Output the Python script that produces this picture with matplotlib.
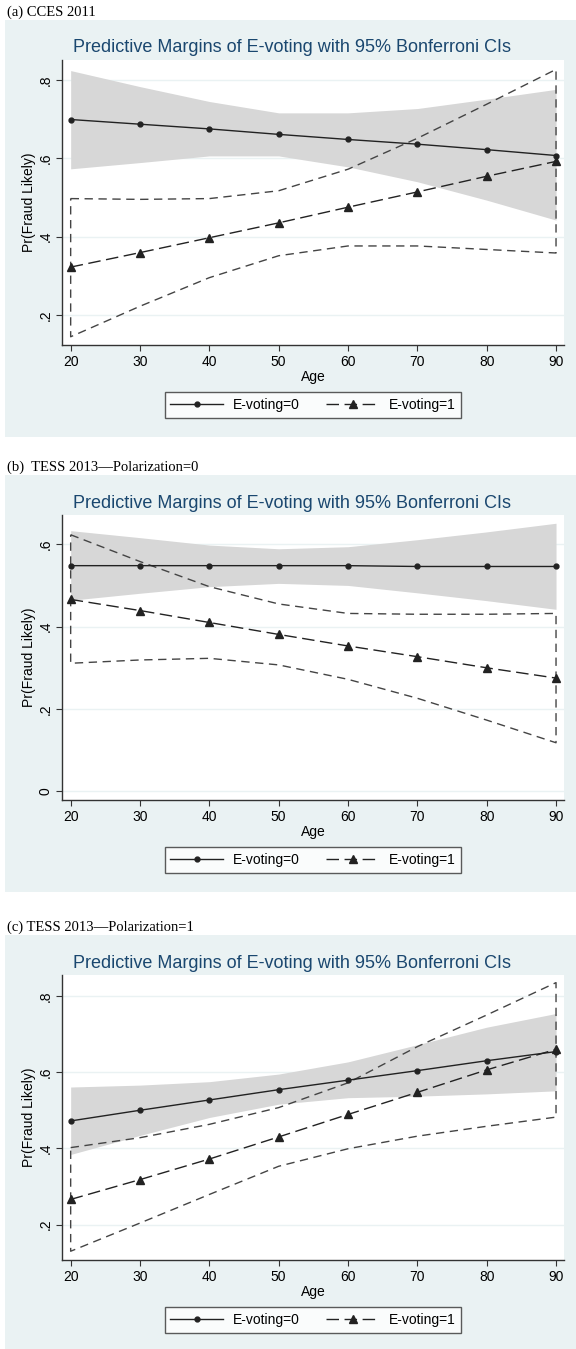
import matplotlib
matplotlib.use("Agg")
import matplotlib.pyplot as plt
from matplotlib.patches import Rectangle
from matplotlib.lines import Line2D

# ---- data ----
ages = [20, 30, 40, 50, 60, 70, 80, 90]

# (a) CCES 2011
a_ev0 = [0.699, 0.687, 0.675, 0.661, 0.648, 0.636, 0.622, 0.607]
a_ev0_hi = [0.824, 0.783, 0.745, 0.716, 0.716, 0.727, 0.751, 0.776]
a_ev0_lo = [0.573, 0.589, 0.606, 0.606, 0.578, 0.540, 0.493, 0.442]
a_ev1 = [0.322, 0.359, 0.397, 0.435, 0.475, 0.514, 0.554, 0.592]
a_ev1_hi = [0.497, 0.495, 0.497, 0.517, 0.572, 0.651, 0.738, 0.827]
a_ev1_lo = [0.144, 0.222, 0.295, 0.351, 0.376, 0.376, 0.367, 0.358]

# (b) TESS 2013, Polarization=0
b_ev0 = [0.548, 0.548, 0.548, 0.548, 0.548, 0.546, 0.546, 0.546]
b_ev0_hi = [0.633, 0.616, 0.598, 0.589, 0.594, 0.611, 0.630, 0.651]
b_ev0_lo = [0.464, 0.481, 0.497, 0.505, 0.500, 0.482, 0.463, 0.442]
b_ev1 = [0.466, 0.439, 0.410, 0.381, 0.353, 0.327, 0.300, 0.275]
b_ev1_hi = [0.623, 0.558, 0.497, 0.455, 0.432, 0.430, 0.430, 0.432]
b_ev1_lo = [0.311, 0.319, 0.323, 0.307, 0.272, 0.226, 0.173, 0.118]

# (c) TESS 2013, Polarization=1
c_ev0 = [0.472, 0.500, 0.527, 0.554, 0.579, 0.604, 0.630, 0.654]
c_ev0_hi = [0.561, 0.566, 0.575, 0.595, 0.627, 0.672, 0.718, 0.754]
c_ev0_lo = [0.384, 0.434, 0.481, 0.516, 0.533, 0.537, 0.543, 0.551]
c_ev1 = [0.266, 0.318, 0.372, 0.430, 0.489, 0.547, 0.606, 0.660]
c_ev1_hi = [0.402, 0.428, 0.463, 0.507, 0.572, 0.667, 0.750, 0.835]
c_ev1_lo = [0.130, 0.204, 0.279, 0.353, 0.399, 0.432, 0.458, 0.482]

panel_labels = ["(a) CCES 2011", "(b)  TESS 2013\u2014Polarization=0",
                "(c) TESS 2013\u2014Polarization=1"]
title = "Predictive Margins of E-voting with 95% Bonferroni CIs"
yticks_ac = [0.2, 0.4, 0.6, 0.8]
yticklabels_ac = [".2", ".4", ".6", ".8"]
yticks_b = [0, 0.2, 0.4, 0.6]
yticklabels_b = ["0", ".2", ".4", ".6"]

W, H = 576, 1349
BG = "#eaf2f3"
NAVY = "#1a476f"
SANS = ["Liberation Sans", "DejaVu Sans"]
SERIF = ["Liberation Serif", "DejaVu Serif"]

fig = plt.figure(figsize=(W / 100, H / 100), dpi=100)
fig.patch.set_facecolor("white")


def frect(x0, y0, x1, y1):
    # pixel box (top-left origin) -> figure fraction rect
    return [x0 / W, 1 - y1 / H, (x1 - x0) / W, (y1 - y0) / H]


def draw_panel(top, label, ev0, ev0_lo, ev0_hi, ev1, ev1_lo, ev1_hi,
               ylim, yticks, yticklabels):
    # gray stata background
    bx = frect(5, top + 8, 576, top + 425)
    fig.patches.append(Rectangle((bx[0], bx[1]), bx[2], bx[3], transform=fig.transFigure,
                                 facecolor=BG, edgecolor="none", zorder=-10))
    fig.text(7 / W, 1 - top / H, label, family=SERIF, fontsize=10.5,
             ha="left", va="center")
    fig.text(292 / W, 1 - (top + 36) / H, title, family=SANS, fontsize=13,
             color=NAVY, ha="center", va="center")

    ax = fig.add_axes(frect(62, top + 48, 564, top + 333))
    ax.set_facecolor("white")
    ax.fill_between(ages, ev0_lo, ev0_hi, color="#d7d7d7", linewidth=0, zorder=1)
    # dashed CI outline for E-voting=1 (closed at both ends)
    ax.plot(ages + ages[::-1] + [ages[0]], ev1_hi + ev1_lo[::-1] + [ev1_hi[0]],
            color="#444444", linestyle=(0, (6, 4)), linewidth=1.0, zorder=2)
    ax.plot(ages, ev0, color="#222222", linewidth=1.0, marker="o", markersize=3.5,
            zorder=3)
    ax.plot(ages, ev1, color="#222222", linewidth=1.0, linestyle=(0, (9, 4)),
            marker="^", markersize=6, zorder=3)

    ax.set_xlim(18.75, 91.15)
    ax.set_ylim(*ylim)
    ax.set_xticks(ages)
    ax.set_yticks(yticks)
    ax.set_yticklabels(yticklabels, rotation=90, va="center")
    for y in yticks:
        ax.axhline(y, color=BG, linewidth=1.0, zorder=0.5)
    for s in ["top", "right"]:
        ax.spines[s].set_visible(False)
    for s in ["left", "bottom"]:
        ax.spines[s].set_color("#333333")
        ax.spines[s].set_linewidth(1.0)
    ax.tick_params(direction="out", length=4, width=0.8, color="#333333",
                   labelsize=10, pad=3)
    for t in ax.get_xticklabels() + ax.get_yticklabels():
        t.set_family(SANS)
    ax.set_xlabel("Age", family=SANS, fontsize=10, labelpad=1)
    ax.set_ylabel("Pr(Fraud Likely)", family=SANS, fontsize=10, labelpad=2)

    handles = [Line2D([], [], color="#222222", linewidth=1.0, marker="o", markersize=3.5),
               Line2D([], [], color="#222222", linewidth=1.0, linestyle=(0, (9, 4)),
                      marker="^", markersize=6)]
    leg = ax.legend(handles, ["E-voting=0", "E-voting=1"], loc="center",
                    bbox_to_anchor=(313 / W, 1 - (top + 393) / H),
                    bbox_transform=fig.transFigure, ncol=2, frameon=True,
                    fancybox=False, handlelength=3.8, columnspacing=1.9,
                    handletextpad=0.7, borderpad=0.4, borderaxespad=0,
                    prop={"family": SANS, "size": 10})
    leg.get_frame().set_edgecolor("#333333")
    leg.get_frame().set_linewidth(1.0)
    return ax


draw_panel(12, panel_labels[0], a_ev0, a_ev0_lo, a_ev0_hi, a_ev1, a_ev1_lo, a_ev1_hi,
           (0.123, 0.851), yticks_ac, yticklabels_ac)
draw_panel(467, panel_labels[1], b_ev0, b_ev0_lo, b_ev0_hi, b_ev1, b_ev1_lo, b_ev1_hi,
           (-0.021, 0.671), yticks_b, yticklabels_b)
draw_panel(927, panel_labels[2], c_ev0, c_ev0_lo, c_ev0_hi, c_ev1, c_ev1_lo, c_ev1_hi,
           (0.107, 0.855), yticks_ac, yticklabels_ac)

fig.savefig("out.png", dpi=100)
